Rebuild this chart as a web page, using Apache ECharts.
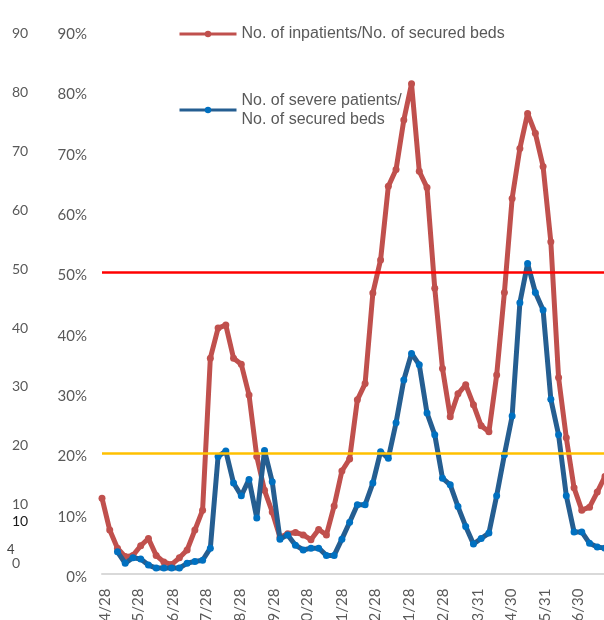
<!DOCTYPE html>
<html><head><meta charset="utf-8">
<script src="https://cdn.jsdelivr.net/npm/echarts@6/dist/echarts.min.js"></script>
<style>html,body{margin:0;padding:0;background:#fff}#c{width:604px;height:620px}</style>
</head><body><div id="c"></div>
<script>
// ---- data ----
const weekDates = [
'2020-04-25','2020-05-02','2020-05-09','2020-05-16','2020-05-23','2020-05-30','2020-06-06','2020-06-13','2020-06-20','2020-06-27',
'2020-07-04','2020-07-11','2020-07-18','2020-07-25','2020-08-01','2020-08-08','2020-08-15','2020-08-22','2020-08-29','2020-09-05',
'2020-09-12','2020-09-19','2020-09-26','2020-10-03','2020-10-10','2020-10-17','2020-10-24','2020-10-31','2020-11-07','2020-11-14',
'2020-11-21','2020-11-28','2020-12-05','2020-12-12','2020-12-19','2020-12-26','2021-01-02','2021-01-09','2021-01-16','2021-01-23',
'2021-01-30','2021-02-06','2021-02-13','2021-02-20','2021-02-27','2021-03-06','2021-03-13','2021-03-20','2021-03-27','2021-04-03',
'2021-04-10','2021-04-17','2021-04-24','2021-05-01','2021-05-08','2021-05-15','2021-05-22','2021-05-29','2021-06-05','2021-06-12',
'2021-06-19','2021-06-26','2021-07-03','2021-07-10','2021-07-17','2021-07-24'];
const inpatientRatio = [
12.5,7.2,4.2,2.8,3.0,4.6,5.8,3.0,1.9,1.5,
2.6,3.9,7.2,10.5,35.7,40.7,41.2,35.7,34.7,29.6,
19.4,13.8,10.2,6.0,6.6,6.8,6.4,5.6,7.3,6.4,
11.2,17.0,19.0,28.8,31.5,46.5,52.0,64.2,67.0,75.2,
81.2,66.7,64.0,47.3,34.0,26.0,29.8,31.3,28.0,24.5,
23.5,32.9,46.6,62.2,70.5,76.3,73.0,67.5,55.0,32.5,
22.5,14.2,10.5,11.0,13.5,16.1];
const severeRatio = [
null,null,3.6,1.7,2.6,2.4,1.4,0.9,0.9,0.9,
0.9,1.7,2.0,2.2,4.2,19.4,20.3,15.0,12.9,15.6,
9.2,20.4,15.2,5.7,6.4,4.7,3.9,4.2,4.2,3.0,
3.0,5.7,8.5,11.4,11.4,15.0,20.2,19.1,25.0,32.1,
36.5,34.6,26.6,23.0,15.8,14.7,11.1,7.8,4.9,5.8,
6.7,12.9,19.7,26.1,44.9,51.4,46.6,43.7,28.9,23.0,
12.9,6.9,6.9,5.0,4.4,4.2];
const seriesNames = ['No. of inpatients/No. of secured beds','No. of severe patients/No. of secured beds'];
const tickDates = ['2020-04-28','2020-05-28','2020-06-28','2020-07-28','2020-08-28','2020-09-28','2020-10-28','2020-11-28','2020-12-28','2021-01-28','2021-02-28','2021-03-31','2021-04-30','2021-05-31','2021-06-30'];
const tickLabels = ['4/28','5/28','6/28','7/28','8/28','9/28','10/28','11/28','12/28','1/28','2/28','3/31','4/30','5/31','6/30'];
const thresholds = [50, 20];
const extraLeftLabels = ['10','4'];

// ---- chart ----
const parse = s => { const p = s.split('-').map(Number); return Date.UTC(p[0], p[1] - 1, p[2]); };
const tickTs = tickDates.map(parse);
const redData = weekDates.map((d, i) => [parse(d), inpatientRatio[i]]);
const blueData = weekDates.map((d, i) => [parse(d), severeRatio[i]]);
const thresholdColors = ['#FF0000', '#FFC000'];

const chart = echarts.init(document.getElementById('c'), null, {renderer: 'canvas'});
chart.setOption({
  animation: false,
  backgroundColor: '#fff',
  grid: [
    {left: 102, right: -1, top: 30.8, bottom: 46.5, outerBoundsMode: 'none', containLabel: false},
    {left: 40, width: 10, top: 33.7, bottom: 56.4, outerBoundsMode: 'none', containLabel: false}
  ],
  legend: [
    {data: [seriesNames[0]], left: 178, top: 25, padding: 0, itemWidth: 57, itemHeight: 8, selectedMode: false,
     lineStyle: {width: 3},
     textStyle: {fontFamily: 'Liberation Sans', fontSize: 16, color: '#595959', lineHeight: 18}},
    {data: [seriesNames[1]], left: 178, top: 91, padding: 0, itemWidth: 57, itemHeight: 8, selectedMode: false,
     lineStyle: {width: 3},
     formatter: n => n.replace('patients/', 'patients/\n'),
     textStyle: {fontFamily: 'Liberation Sans', fontSize: 16, color: '#595959', lineHeight: 19}}
  ],
  xAxis: [
    {type: 'value', gridIndex: 0, min: parse(weekDates[0]), max: parse(weekDates[weekDates.length - 1]),
     axisLine: {show: true, onZero: false, lineStyle: {color: '#D9D9D9', width: 2}},
     axisTick: {show: false}, splitLine: {show: false},
     axisLabel: {customValues: tickTs, rotate: 90, margin: 15, fontFamily: 'Lato', fontSize: 15, color: '#595959',
       formatter: v => { let best = -1, bd = Infinity; tickTs.forEach((t, i) => { const d = Math.abs(t - v); if (d < bd) { bd = d; best = i; } }); return bd < 86400000 ? tickLabels[best] : ''; }}},
    {type: 'value', gridIndex: 1, show: false}
  ],
  yAxis: [
    {type: 'value', gridIndex: 0, min: 0, max: 90, interval: 10,
     axisLine: {show: false}, axisTick: {show: false}, splitLine: {show: false},
     axisLabel: {formatter: '{value}%', margin: 15, fontFamily: 'Lato', fontSize: 15, color: '#595959', verticalAlign: 'top', lineHeight: 7}},
    {type: 'value', gridIndex: 1, min: 0, max: 90, interval: 10,
     axisLine: {show: false}, axisTick: {show: false}, splitLine: {show: false},
     axisLabel: {align: 'left', margin: 28, fontFamily: 'Lato', fontSize: 14, color: '#595959'}}
  ],
  series: [
    {name: seriesNames[0], type: 'line', xAxisIndex: 0, yAxisIndex: 0, data: redData, z: 2,
     symbol: 'circle', symbolSize: 7, lineStyle: {color: '#C0504D', width: 5}, itemStyle: {color: '#C0504D'},
     emphasis: {disabled: true}},
    {name: 'thresholds', type: 'line', xAxisIndex: 0, yAxisIndex: 0, data: [], z: 3,
     markLine: {silent: true, symbol: ['none', 'none'], label: {show: false}, animation: false,
       data: thresholds.map((v, i) => ({yAxis: v, lineStyle: {color: thresholdColors[i], width: 2.5, type: 'solid'}}))}},
    {name: seriesNames[1], type: 'line', xAxisIndex: 0, yAxisIndex: 0, data: blueData, z: 4,
     symbol: 'circle', symbolSize: 7, lineStyle: {color: '#255E91', width: 5}, itemStyle: {color: '#0070C0'},
     emphasis: {disabled: true}}
  ],
  graphic: [
    {type: 'text', left: 12, top: 514, style: {text: extraLeftLabels[0], font: '14px Lato', fill: '#1a1a1a'}},
    {type: 'text', left: 7, top: 543, style: {text: extraLeftLabels[1], font: '13px Lato', fill: '#404040'}}
  ]
});
</script></body></html>
